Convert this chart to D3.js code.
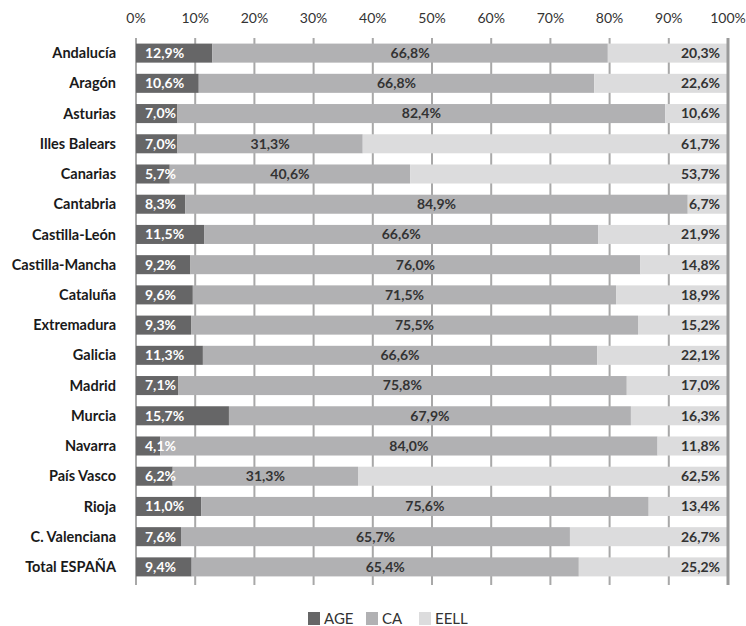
<!DOCTYPE html>
<html>
<head>
<meta charset="utf-8">
<script src="https://cdn.jsdelivr.net/npm/d3@7"></script>
<style>
  body { margin: 0; background: #fff; }
  text { font-family: Lato, "Open Sans", sans-serif; }
</style>
</head>
<body>
<svg id="chart"></svg>
<script>
let regions = ['Andalucía','Aragón','Asturias','Illes Balears','Canarias','Cantabria','Castilla-León',
  'Castilla-Mancha','Cataluña','Extremadura','Galicia','Madrid','Murcia','Navarra','País Vasco','Rioja',
  'C. Valenciana','Total ESPAÑA']
let age  = [12.9,10.6,7.0,7.0,5.7,8.3,11.5,9.2,9.6,9.3,11.3,7.1,15.7,4.1,6.2,11.0,7.6,9.4]
let ca   = [66.8,66.8,82.4,31.3,40.6,84.9,66.6,76.0,71.5,75.5,66.6,75.8,67.9,84.0,31.3,75.6,65.7,65.4]
let eell = [20.3,22.6,10.6,61.7,53.7,6.7,21.9,14.8,18.9,15.2,22.1,17.0,16.3,11.8,62.5,13.4,26.7,25.2]
let series = ['AGE','CA','EELL']
let colors = ['#666667','#b1b1b3','#dcdcdd']
let ticks = [0,10,20,30,40,50,60,70,80,90,100]

let width = 746
let height = 626
let plotLeft = 136
let plotRight = 728
let plotTop = 38
let plotBottom = 582

let fmt = v => v.toFixed(1).replace('.', ',') + '%'

let rows = regions.map((r, i) => ({region: r, AGE: age[i], CA: ca[i], EELL: eell[i]}))
let stacked = d3.stack().keys(series)(rows)

let svg = d3.select('#chart').attr('width', width).attr('height', height)

let x = d3.scaleLinear().domain([0, 100]).range([plotLeft, plotRight])
let y = d3.scaleBand().domain(regions).range([plotTop, plotBottom]).paddingInner(0.37).paddingOuter(0.185)
let color = d3.scaleOrdinal().domain(series).range(colors)

// gridlines
svg.append('g')
  .selectAll('line')
  .data(ticks)
  .enter()
  .append('line')
  .attr('x1', d => x(d)).attr('x2', d => x(d))
  .attr('y1', plotTop).attr('y2', plotBottom + 3)
  .attr('stroke', '#a8a8a8')
  .attr('stroke-width', 2)

// top axis labels
svg.append('g')
  .selectAll('text')
  .data(ticks)
  .enter()
  .append('text')
  .attr('x', d => x(d))
  .attr('y', 23)
  .attr('text-anchor', 'middle')
  .attr('font-size', 14)
  .attr('fill', '#333')
  .text(d => d + '%')

// bars
svg.append('g')
  .selectAll('g')
  .data(stacked)
  .enter()
  .append('g')
  .attr('fill', d => color(d.key))
  .selectAll('rect')
  .data(d => d)
  .enter()
  .append('rect')
  .attr('x', d => x(d[0]))
  .attr('width', d => x(d[1]) - x(d[0]))
  .attr('y', d => y(d.data.region))
  .attr('height', y.bandwidth())

// right edge line drawn over bars
svg.append('line')
  .attr('x1', x(100)).attr('x2', x(100))
  .attr('y1', plotTop).attr('y2', plotBottom + 3)
  .attr('stroke', '#9a9a9a').attr('stroke-width', 3)

// category labels
svg.append('g')
  .selectAll('text')
  .data(regions)
  .enter()
  .append('text')
  .attr('x', 116)
  .attr('y', d => y(d) + y.bandwidth() / 2)
  .attr('dy', '0.35em')
  .attr('text-anchor', 'end')
  .attr('font-size', 14.5)
  .attr('font-weight', 'bold')
  .attr('fill', '#1a1a1a')
  .text(d => d)

// value labels
let labels = svg.append('g').attr('font-size', 14).attr('font-weight', 'bold')
rows.forEach((r) => {
  let cy = y(r.region) + y.bandwidth() / 2
  labels.append('text')
    .attr('x', x(0) + 9).attr('y', cy).attr('dy', '0.35em')
    .attr('fill', '#fff')
    .text(fmt(r.AGE))
  labels.append('text')
    .attr('x', x(r.AGE + r.CA / 2)).attr('y', cy).attr('dy', '0.35em')
    .attr('text-anchor', 'middle')
    .attr('fill', '#333')
    .text(fmt(r.CA))
  labels.append('text')
    .attr('x', x(100) - 8).attr('y', cy).attr('dy', '0.35em')
    .attr('text-anchor', 'end')
    .attr('fill', '#333')
    .text(fmt(r.EELL))
})

// legend
let legendX = [308, 366, 419]
let legend = svg.append('g')
series.forEach((s, i) => {
  legend.append('rect')
    .attr('x', legendX[i]).attr('y', 612)
    .attr('width', 12).attr('height', 13)
    .attr('fill', color(s))
  legend.append('text')
    .attr('x', legendX[i] + 16).attr('y', 624)
    .attr('font-size', 15)
    .attr('fill', '#333')
    .text(s)
})
</script>
</body>
</html>
